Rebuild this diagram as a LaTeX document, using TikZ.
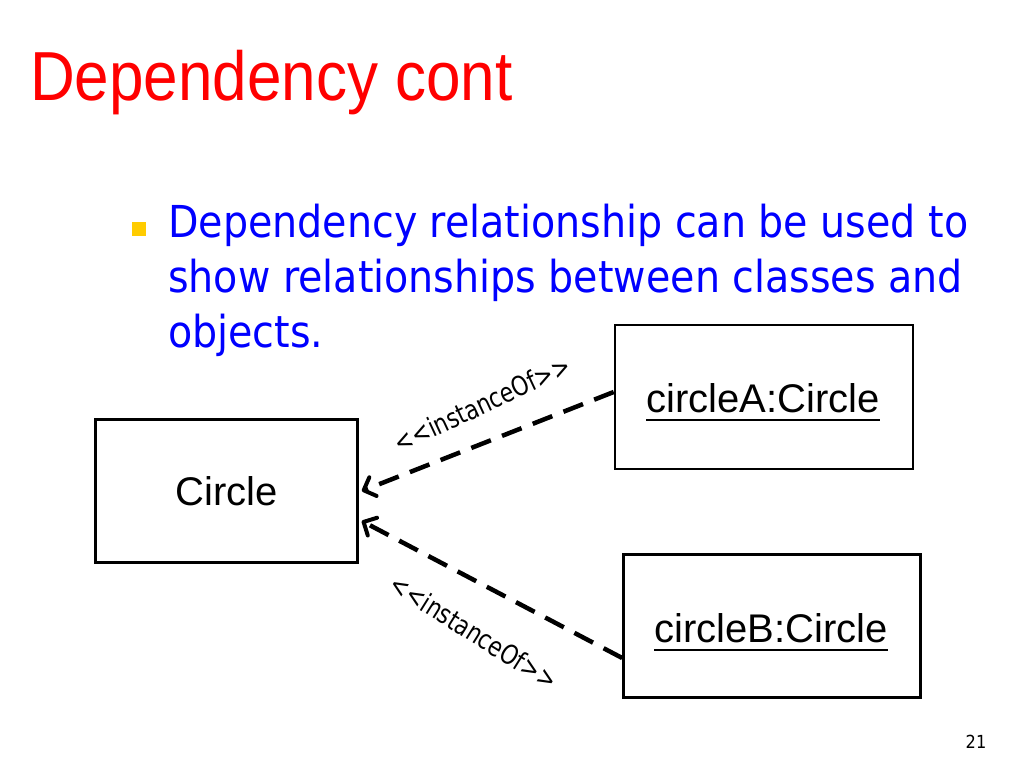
\documentclass[tikz,border=0pt]{standalone}
\usepackage{fontspec}
\setmainfont{Liberation Sans}
\newfontfamily\tahomalike{DejaVu Sans Condensed}
\usetikzlibrary{arrows.meta,calc}
\definecolor{titlered}{RGB}{255,0,0}
\definecolor{bodyblue}{RGB}{0,0,255}
\definecolor{bulletyellow}{RGB}{255,204,0}
\begin{document}
\begin{tikzpicture}[x=1pt,y=-1pt,
  umlbox/.style={draw=black,line width=2.6pt,inner sep=0pt},
  boxtext/.style={font=\fontsize{40}{48}\selectfont,inner sep=0pt},
  bodyline/.style={font=\tahomalike\fontsize{44}{52}\selectfont,text=bodyblue,inner sep=0pt,anchor=base west},
  deparrow/.style={line width=4.5pt,dash pattern=on 21pt off 12pt,-{Straight Barb[length=10pt,width=20pt,line width=4pt,round]}},
  steretype/.style={font=\tahomalike\fontsize{27}{30}\selectfont,inner sep=0pt}]
\useasboundingbox (0,0) rectangle (1024,768);
\fill[white] (0,0) rectangle (1024,768);
% title
\node[font=\fontsize{62}{70}\selectfont,text=titlered,anchor=base west,inner sep=0pt] (title) at (30,100) {\scalebox{1}[1.12]{Dependency cont}};
% bullet
\fill[bulletyellow] (132,222) rectangle (146,236);
\node[bodyline] (l1) at (168,237) {Dependency relationship can be used to};
\node[bodyline] (l2) at (168,292) {show relationships between classes and};
\node[bodyline] (l3) at (168,347) {objects.};
% boxes
\node[umlbox,minimum width=262pt,minimum height=143pt] (circ) at (226.5,491) {};
\node[boxtext] (ctext) at (circ.center) {Circle};
\node[umlbox,minimum width=298pt,minimum height=144pt] (circA) at (764,397) {};
\node[boxtext,anchor=base] (atext) at (763,412) {circleA:Circle};
\draw[line width=1.8pt] ($(atext.base west)+(0,8)$) -- ($(atext.base east)+(0,8)$);
\node[umlbox,minimum width=297pt,minimum height=143pt] (circB) at (772,626) {};
\node[boxtext,anchor=base] (btext) at (771,642) {circleB:Circle};
\draw[line width=1.8pt] ($(btext.base west)+(0,8)$) -- ($(btext.base east)+(0,8)$);
% arrows
\coordinate (aend) at ($(circA.west)+(0,-5)$);
\coordinate (bend) at ($(circB.west)+(0,32)$);
\coordinate (tipA) at ($(circ.east)+(3,0)$);
\coordinate (tipB) at ($(circ.east)+(3,30)$);
\draw[deparrow] (aend) -- (tipA);
\draw[deparrow] (bend) -- (tipB);
\node[steretype,rotate=25] (labA) at (482,404) {\scalebox{0.9}[1]{<{}<instanceOf>{}>}};
\node[steretype,rotate=-32] (labB) at (474,632) {\scalebox{0.9}[1]{<{}<instanceOf>{}>}};
% page number
\node[font=\tahomalike\fontsize{18}{22}\selectfont,inner sep=0pt] (pnum) at (976,742) {21};
\end{tikzpicture}
\end{document}
